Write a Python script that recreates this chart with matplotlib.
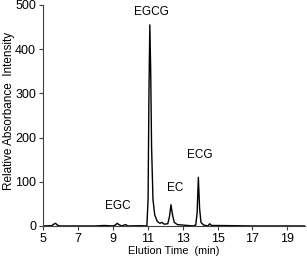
import matplotlib
matplotlib.use('Agg')
import matplotlib.pyplot as plt

plt.rcParams['font.family'] = ['Liberation Sans', 'DejaVu Sans']

# chromatogram points (time in min, intensity)
times = [5.0, 5.5, 5.62, 5.72, 5.82, 5.95, 7.0, 8.0, 8.5, 9.0, 9.15, 9.25, 9.35,
         9.5, 9.65, 9.75, 9.85, 10.5, 10.95, 11.02, 11.07, 11.12, 11.17, 11.22,
         11.3, 11.4, 11.55, 11.7, 11.8, 11.95, 12.15, 12.25, 12.33, 12.42, 12.52,
         12.7, 13.0, 13.6, 13.75, 13.83, 13.9, 13.97, 14.05, 14.2, 14.45, 14.55,
         14.65, 15.0, 17.0, 20.0]
intensity = [0, 0.5, 4, 6, 2, 0, 0, 0, 1, 0, 2, 6, 3,
             0, 2, 3, 0, 0.5, 0, 60, 300, 455, 350, 180,
             60, 25, 10, 6, 8, 4, 5, 22, 48, 25, 8,
             3, 2, 0, 2, 30, 110, 40, 8, 2, 0, 5,
             1, 1, 0, 0]

peak_names = ['EGC', 'EGCG', 'EC', 'ECG']
peak_x = [9.3, 11.2, 12.6, 14.0]
peak_y = [45, 485, 86, 160]

fig = plt.figure(figsize=(3.07, 2.6), dpi=100)
ax = fig.add_axes([0.14, 0.131, 0.853, 0.85])
ax.plot(times, intensity, color='black', lw=1.0)

for name, x, y in zip(peak_names, peak_x, peak_y):
    ax.text(x, y, name, ha='center', va='center', fontsize=8.5)

ax.set_xlim(5, 20)
ax.set_ylim(0, 500)
ax.set_xticks(range(5, 20, 2))
ax.set_yticks(range(0, 501, 100))
for side in ['top', 'right']:
    ax.spines[side].set_visible(False)
for side in ['left', 'bottom']:
    ax.spines[side].set_color('#404040')
ax.tick_params(labelsize=9, length=3, width=0.8, color='#404040',
               direction='out', pad=2)
ax.set_xlabel('Elution Time  (min)', fontsize=7.8, labelpad=1)
ax.set_ylabel('Relative Absorbance  Intensity', fontsize=8.5, labelpad=0)
ax.yaxis.set_label_coords(-0.105, 0.52)

fig.savefig('out.png', dpi=100)
